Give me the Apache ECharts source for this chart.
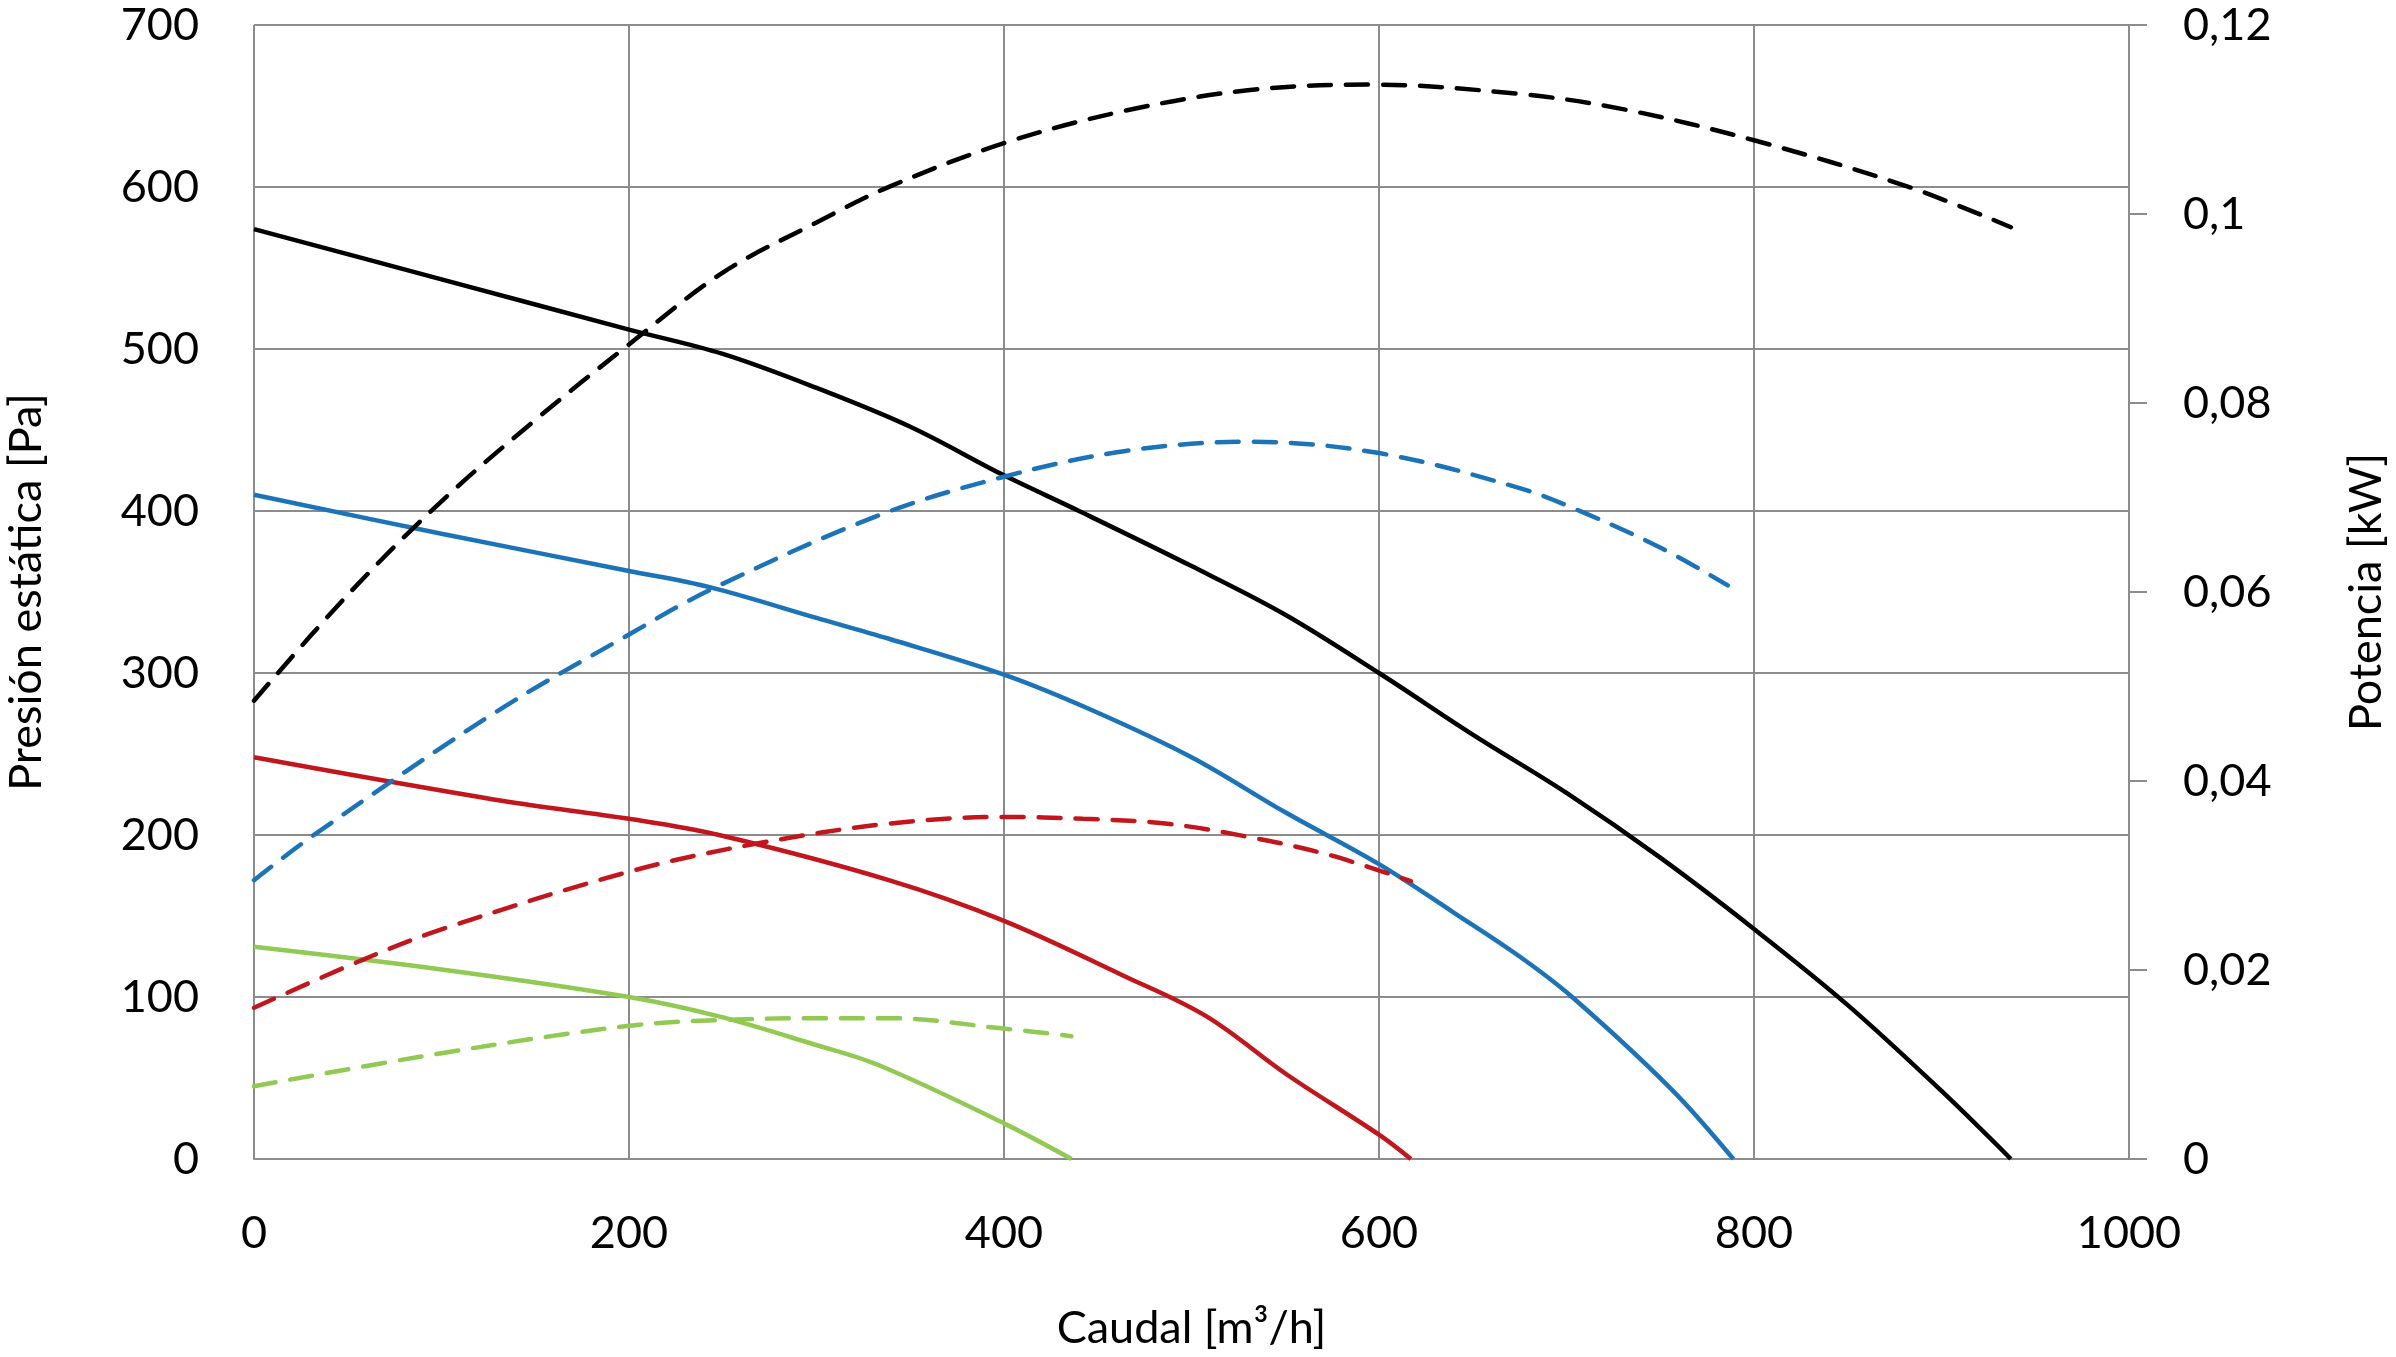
<!DOCTYPE html>
<html>
<head>
<meta charset="utf-8">
<title>Curvas ventilador</title>
<script src="https://cdn.jsdelivr.net/npm/echarts@6/dist/echarts.min.js"></script>
<style>
  html, body { margin: 0; padding: 0; background: #fff; }
  #chart { width: 2396px; height: 1357px; }
</style>
</head>
<body>
<div id="chart"></div>
<script>
// Caudal [m3/h] values and readings per curve
// Presion estatica [Pa] (solid lines, left axis)
const blackPresX = [0, 100, 200, 250, 300, 350, 400, 440, 500, 550, 600, 650, 700, 750, 800, 850, 900, 937]
const blackPresY = [574, 543, 512, 497, 476, 452, 422, 400, 366, 336, 300, 262, 226, 186, 142, 95, 42, 0]

const bluePresX = [0, 100, 200, 243, 300, 339, 400, 447, 500, 550, 600, 640, 675, 703, 756, 789]
const bluePresY = [410, 386, 363, 353, 334, 321, 299, 277, 248, 214, 182, 152, 125, 100, 43, 0]

const redPresX = [0, 133, 200, 248, 339, 400, 464, 508, 551, 600, 617]
const redPresY = [248, 221, 210, 200, 172, 147, 113, 88, 52, 15, 0]

const greenPresX = [0, 100, 200, 248, 298, 333, 400, 436]
const greenPresY = [131, 117, 100, 88, 71, 58, 22, 0]

// Potencia [kW] (dashed lines, right axis)
const blackPotX = [0, 50, 100, 150, 200, 250, 300, 339, 400, 464, 530, 595, 675, 730, 800, 882, 937]
const blackPotY = [0.0485, 0.0597, 0.0696, 0.0782, 0.0862, 0.0938, 0.0991, 0.1029, 0.1075, 0.1109, 0.1131, 0.1137, 0.1127, 0.1111, 0.1078, 0.1029, 0.0986]

const bluePotX = [0, 32, 129, 200, 243, 333, 400, 464, 530, 600, 675, 708, 751, 786]
const bluePotY = [0.0295, 0.0343, 0.0473, 0.0555, 0.0602, 0.0681, 0.0722, 0.0749, 0.0759, 0.0747, 0.0710, 0.0685, 0.0646, 0.0607]

const redPotX = [0, 57, 100, 200, 266, 339, 400, 442, 486, 530, 573, 617]
const redPotY = [0.0160, 0.0210, 0.0243, 0.0304, 0.0333, 0.0355, 0.0362, 0.0360, 0.0355, 0.0341, 0.0322, 0.0294]

const greenPotX = [0, 100, 200, 248, 300, 339, 400, 436]
const greenPotY = [0.0077, 0.0112, 0.0141, 0.0147, 0.0149, 0.0149, 0.0138, 0.0130]

const COLORS = { black: '#000000', blue: '#1B73BA', red: '#C3161C', green: '#92C952' }
const GRID_COLOR = '#8C8C8C'
const FONT = 'Lato'
const LINE_WIDTH = 4.5

function zip(xs, ys) {
  return xs.map((x, i) => [x, ys[i]])
}

function presSeries(name, xs, ys, color) {
  return {
    name,
    type: 'line',
    yAxisIndex: 0,
    data: zip(xs, ys),
    smooth: 0.35,
    showSymbol: false,
    lineStyle: { color, width: LINE_WIDTH }
  }
}

function potSeries(name, xs, ys, color) {
  return {
    name,
    type: 'line',
    yAxisIndex: 1,
    data: zip(xs, ys),
    smooth: 0.35,
    showSymbol: false,
    lineStyle: { color, width: LINE_WIDTH, type: [22, 15], cap: 'round' }
  }
}

const chart = echarts.init(document.getElementById('chart'))

chart.setOption({
  animation: false,
  backgroundColor: '#ffffff',
  textStyle: { fontFamily: FONT, color: '#000' },
  grid: { left: 254, right: 267, top: 25, bottom: 198, outerBoundsMode: 'none' },
  xAxis: {
    type: 'value',
    min: 0,
    max: 1000,
    interval: 200,
    name: 'Caudal [m³/h]',
    nameLocation: 'middle',
    nameGap: 147,
    nameTextStyle: { fontSize: 45, color: '#000', fontFamily: FONT },
    axisLine: { show: true, lineStyle: { color: GRID_COLOR, width: 2 } },
    axisTick: { show: false },
    axisLabel: { fontSize: 45, color: '#000', margin: 52, fontFamily: FONT, formatter: v => String(v) },
    splitLine: { show: true, lineStyle: { color: GRID_COLOR, width: 2 } }
  },
  yAxis: [
    {
      type: 'value',
      min: 0,
      max: 700,
      interval: 100,
      name: 'Presión estática [Pa]',
      nameLocation: 'middle',
      nameGap: 205,
      nameRotate: 90,
      nameTextStyle: { fontSize: 45, color: '#000', fontFamily: FONT },
      axisLine: { show: false },
      axisTick: { show: false },
      axisLabel: { fontSize: 45, color: '#000', margin: 55, fontFamily: FONT, formatter: v => String(v) },
      splitLine: { show: true, lineStyle: { color: GRID_COLOR, width: 2 } }
    },
    {
      type: 'value',
      min: 0,
      max: 0.12,
      interval: 0.02,
      position: 'right',
      name: 'Potencia [kW]',
      nameLocation: 'middle',
      nameGap: 215,
      nameRotate: 90,
      nameTextStyle: { fontSize: 45, color: '#000', fontFamily: FONT },
      axisLine: { show: true, lineStyle: { color: GRID_COLOR, width: 2 } },
      axisTick: { show: true, inside: false, length: 18, lineStyle: { color: GRID_COLOR, width: 2 } },
      axisLabel: {
        fontSize: 45,
        color: '#000',
        margin: 54,
        fontFamily: FONT,
        formatter: v => String(Math.round(v * 100) / 100).replace('.', ',')
      },
      splitLine: { show: false }
    }
  ],
  series: [
    presSeries('Presión negro', blackPresX, blackPresY, COLORS.black),
    presSeries('Presión azul', bluePresX, bluePresY, COLORS.blue),
    presSeries('Presión rojo', redPresX, redPresY, COLORS.red),
    presSeries('Presión verde', greenPresX, greenPresY, COLORS.green),
    potSeries('Potencia negro', blackPotX, blackPotY, COLORS.black),
    potSeries('Potencia azul', bluePotX, bluePotY, COLORS.blue),
    potSeries('Potencia rojo', redPotX, redPotY, COLORS.red),
    potSeries('Potencia verde', greenPotX, greenPotY, COLORS.green)
  ]
})

window.addEventListener('resize', () => chart.resize())
</script>
</body>
</html>
